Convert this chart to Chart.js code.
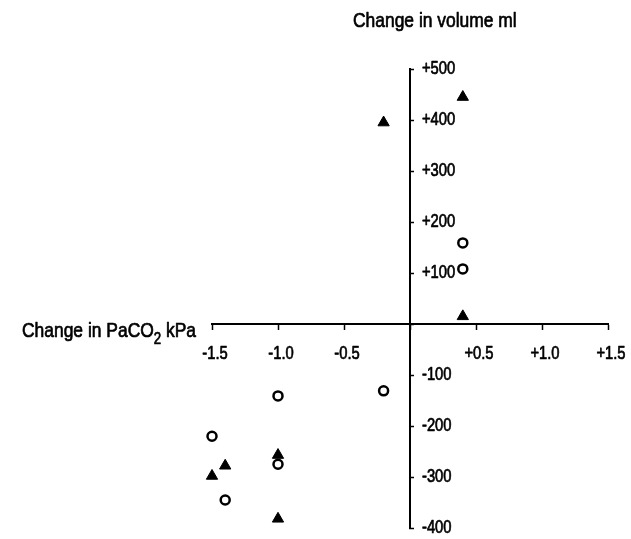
<!DOCTYPE html>
<html><head><meta charset="utf-8">
<script src="https://cdn.jsdelivr.net/npm/chart.js@4.4.1/dist/chart.umd.min.js"></script>
<style>html,body{margin:0;padding:0;background:#fff}</style>
</head><body>
<canvas id="c" width="631" height="539"></canvas>
<script>
// ---- data ----
const xTitleMain = 'Change in PaCO';
const xTitleSub = '2';
const xTitleEnd = ' kPa';
const yTitle = 'Change in volume ml';
const xTicks = [-1.5, -1.0, -0.5, 0, 0.5, 1.0, 1.5];
const yTicks = [-400, -300, -200, -100, 0, 100, 200, 300, 400, 500];
const triangleX = [-0.2, 0.4, 0.4, -1.4, -1.5, -1.0, -1.0];
const triangleY = [395, 445, 15, -278, -298, -257, -382];
const circleX = [0.4, 0.4, -1.0, -0.2, -1.5, -1.0, -1.4];
const circleY = [159, 108, -141, -131, -220, -275, -345];

const FONT = "'Liberation Sans', Arial, sans-serif";
const INK = '#000';
const NARROW = 0.82;

const fmtX = v => v === 0 ? '' : (v > 0 ? '+' : '') + v.toFixed(1);
const fmtY = v => v === 0 ? '' : (v > 0 ? '+' : '') + v;

const toPts = (xs, ys) => xs.map((x, i) => ({x, y: ys[i]}));

// draw horizontally condensed, slightly heavy text (Helvetica-Narrow look)
function narrowText(ctx, str, x, y, size, align, baseline, squeeze) {
  const k = squeeze || NARROW;
  ctx.save();
  ctx.font = size + 'px ' + FONT;
  ctx.textAlign = align;
  ctx.textBaseline = baseline;
  ctx.fillStyle = INK;
  ctx.strokeStyle = INK;
  ctx.lineWidth = 0.7;
  ctx.lineJoin = 'round';
  ctx.translate(x, y);
  ctx.scale(k, 1);
  ctx.fillText(str, 0, 0);
  ctx.strokeText(str, 0, 0);
  const w = ctx.measureText(str).width * k;
  ctx.restore();
  return w;
}

const annot = {
  id: 'annot',
  beforeDraw(chart) {
    const ctx = chart.ctx;
    ctx.save();
    ctx.fillStyle = '#fff';
    ctx.fillRect(0, 0, chart.width, chart.height);
    ctx.restore();
  },
  afterDraw(chart) {
    const ctx = chart.ctx, xs = chart.scales.x, ys = chart.scales.y;
    const x0 = xs.getPixelForValue(0), y0 = ys.getPixelForValue(0);
    // y tick labels, right of the vertical axis
    ys.ticks.forEach(t => {
      const lab = fmtY(t.value);
      if (lab) narrowText(ctx, lab, x0 + 12, ys.getPixelForValue(t.value), 18, 'left', 'middle');
    });
    // x tick labels, below the horizontal axis
    xs.ticks.forEach(t => {
      const lab = fmtX(t.value);
      if (lab) narrowText(ctx, lab, xs.getPixelForValue(t.value) + 3, y0 + 30, 18, 'center', 'middle');
    });
    // axis titles
    narrowText(ctx, yTitle, x0 - 57, 27, 21, 'left', 'alphabetic', 0.83);
    let tx = 22;
    const by = y0 + 13;
    tx += narrowText(ctx, xTitleMain, tx, by, 21, 'left', 'alphabetic', 0.83);
    tx += narrowText(ctx, xTitleSub, tx, by + 7, 16, 'left', 'alphabetic', 0.83);
    narrowText(ctx, xTitleEnd, tx, by, 21, 'left', 'alphabetic', 0.83);
  }
};

new Chart(document.getElementById('c'), {
  type: 'scatter',
  data: {
    datasets: [
      {
        label: 'triangles',
        data: toPts(triangleX, triangleY),
        pointStyle: 'triangle',
        pointRadius: 6.5,
        backgroundColor: INK,
        borderColor: INK,
        borderWidth: 1,
        clip: false
      },
      {
        label: 'circles',
        data: toPts(circleX, circleY),
        pointStyle: 'circle',
        pointRadius: 4.5,
        backgroundColor: '#fff',
        borderColor: INK,
        borderWidth: 2.5,
        clip: false
      }
    ]
  },
  options: {
    responsive: false,
    animation: false,
    layout: {padding: {left: 212, right: 23, top: 69, bottom: 11}},
    plugins: {legend: {display: false}, tooltip: {enabled: false}},
    scales: {
      x: {
        type: 'linear',
        position: {y: 0},
        min: -1.5, max: 1.5,
        afterBuildTicks: s => { s.ticks = xTicks.map(v => ({value: v})); },
        border: {display: true, color: INK, width: 2},
        grid: {display: true, drawOnChartArea: false, drawTicks: true, tickLength: 5, color: INK, tickWidth: 1.5},
        ticks: {display: false}
      },
      y: {
        type: 'linear',
        position: {x: 0},
        min: -400, max: 500,
        afterBuildTicks: s => { s.ticks = yTicks.map(v => ({value: v})); },
        border: {display: true, color: INK, width: 2},
        grid: {display: true, drawOnChartArea: false, drawTicks: true, tickLength: -5, color: INK, tickWidth: 1.5},
        ticks: {display: false}
      }
    }
  },
  plugins: [annot]
});
</script>
</body></html>
